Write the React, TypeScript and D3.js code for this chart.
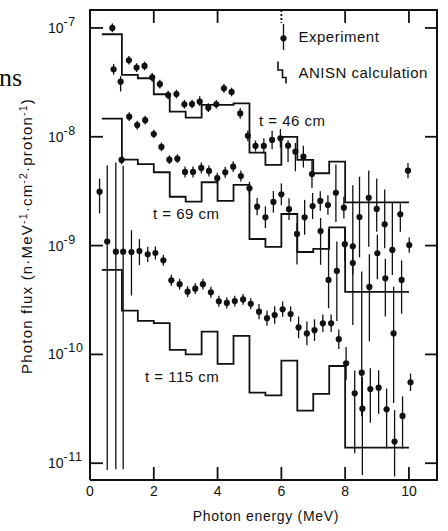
import React from 'react';
import * as d3 from 'd3';

// ANISN histogram bin edges (MeV) and calculated flux per bin
const binEdges = [0.37, 1, 1.5, 2, 2.5, 3, 3.5, 4, 4.5, 5, 5.5, 6, 6.5, 7, 7.5, 8, 10];
const calc46 = [8.75e-8, 3.7e-8, 3.45e-8, 2.46e-8, 1.7e-8, 1.5e-8, 1.96e-8, 1.96e-8, 2.03e-8, 7.14e-9, 5.51e-9, 9.96e-9, 6.12e-9, 4.62e-9, 5.9e-9, 2.5e-9];
const calc69 = [1.47e-8, 6.16e-9, 5.6e-9, 4.72e-9, 2.81e-9, 2.53e-9, 3.82e-9, 2.57e-9, 3.61e-9, 1.15e-9, 9.75e-10, 1.95e-9, 8.73e-10, 9.31e-10, 1.47e-9, 3.75e-10];
const calc115 = [5.97e-10, 2.52e-10, 2.03e-10, 1.94e-10, 1.1e-10, 1.0e-10, 1.62e-10, 8.17e-11, 1.48e-10, 4.45e-11, 4.21e-11, 8.75e-11, 3.04e-11, 4.33e-11, 7.82e-11, 1.39e-11];

// experiment: [energy MeV, flux, error up (decades), error down (decades)]
type Pt = [number, number, number, number];
const exp46: Pt[] = [
  [0.70, 1.0e-7, 0.04, 0.04], [0.74, 4.17e-8, 0.05, 0.05], [0.96, 3.21e-8, 0.05, 0.09],
  [1.22, 5.05e-8, 0.04, 0.04], [1.46, 4.32e-8, 0.04, 0.04], [1.71, 4.48e-8, 0.04, 0.04],
  [1.95, 3.52e-8, 0.04, 0.04], [2.19, 3.04e-8, 0.04, 0.04], [2.45, 2.42e-8, 0.04, 0.04],
  [2.71, 2.47e-8, 0.04, 0.04], [2.96, 1.99e-8, 0.04, 0.04], [3.20, 2.0e-8, 0.04, 0.04],
  [3.44, 2.1e-8, 0.05, 0.04], [3.71, 1.85e-8, 0.04, 0.04], [3.96, 1.99e-8, 0.04, 0.04],
  [4.20, 2.79e-8, 0.04, 0.04], [4.44, 2.58e-8, 0.04, 0.04], [4.71, 1.64e-8, 0.05, 0.05],
  [4.95, 1.02e-8, 0.05, 0.05], [5.19, 8.23e-9, 0.05, 0.05], [5.45, 8.23e-9, 0.07, 0.07],
  [5.71, 9.35e-9, 0.085, 0.085], [5.97, 9.68e-9, 0.085, 0.085], [6.21, 8.28e-9, 0.05, 0.15],
  [6.44, 7.3e-9, 0.08, 0.18], [6.69, 6.56e-9, 0.1, 0.1], [6.96, 4.55e-9, 0.13, 0.13],
  [7.22, 2.57e-9, 0.09, 0.09], [7.46, 2.36e-9, 0.09, 0.09], [7.71, 3.06e-9, 0.26, 0.27],
  [7.96, 2.23e-9, 0.1, 0.1], [8.24, 9.86e-10, 0.56, 0.26], [8.45, 1.83e-9, 0.37, 0.37],
  [8.74, 2.75e-9, 0.25, 0.45], [8.99, 2.17e-9, 0.28, 0.21], [9.24, 1.57e-9, 0.32, 0.22],
  [9.48, 9.12e-10, 0.44, 0.23], [9.73, 1.94e-9, 0.1, 0.16], [9.97, 4.88e-9, 0.07, 0.07],
];
const exp69: Pt[] = [
  [0.30, 3.13e-9, 0.12, 0.2], [0.99, 6.12e-9, 0.04, 0.04], [1.23, 1.53e-8, 0.04, 0.04],
  [1.48, 1.28e-8, 0.04, 0.04], [1.73, 1.42e-8, 0.04, 0.04], [2.00, 1.06e-8, 0.04, 0.04],
  [2.24, 8.06e-9, 0.04, 0.04], [2.49, 6.16e-9, 0.04, 0.04], [2.74, 6.29e-9, 0.04, 0.04],
  [2.98, 4.75e-9, 0.05, 0.05], [3.23, 4.75e-9, 0.05, 0.05], [3.49, 5.17e-9, 0.05, 0.05],
  [3.73, 4.85e-9, 0.05, 0.05], [3.99, 4.16e-9, 0.05, 0.05], [4.24, 4.72e-9, 0.05, 0.05],
  [4.49, 5.31e-9, 0.05, 0.05], [4.73, 4.36e-9, 0.05, 0.05], [5.00, 3.36e-9, 0.06, 0.06],
  [5.24, 2.28e-9, 0.08, 0.08], [5.50, 1.82e-9, 0.1, 0.1], [5.75, 2.52e-9, 0.1, 0.1],
  [6.00, 2.96e-9, 0.1, 0.1], [6.24, 2.16e-9, 0.1, 0.1], [6.49, 1.28e-9, 0.1, 0.28],
  [6.73, 1.82e-9, 0.16, 0.16], [6.98, 2.31e-9, 0.12, 0.12], [7.23, 1.36e-9, 0.12, 0.31],
  [7.48, 4.83e-10, 0.47, 0.26], [7.74, 5.85e-10, 0.27, 0.46], [7.99, 1.03e-9, 0.15, 0.15],
  [8.24, 6.92e-10, 0.16, 0.57], [8.52, 6.79e-11, 0.93, 0.4], [8.76, 4.17e-10, 0.3, 0.5],
  [9.01, 8.5e-10, 0.17, 0.24], [9.26, 5.0e-10, 0.18, 0.35], [9.52, 1.56e-10, 0.43, 0.64],
  [9.77, 4.83e-10, 0.18, 0.31], [10.01, 1.01e-9, 0.07, 0.07],
];
const exp115: Pt[] = [
  [0.54, 1.09e-9, 0.70, 2.1], [0.81, 8.79e-10, 0.82, 2.0], [1.04, 8.79e-10, 0.79, 2.0],
  [1.30, 8.73e-10, 0.2, 0.4], [1.55, 8.91e-10, 0.11, 0.13], [1.81, 8.32e-10, 0.07, 0.07],
  [2.05, 8.55e-10, 0.06, 0.06], [2.30, 7.33e-10, 0.05, 0.05], [2.55, 4.8e-10, 0.05, 0.05],
  [2.81, 4.42e-10, 0.05, 0.05], [3.06, 3.77e-10, 0.05, 0.05], [3.30, 4.02e-10, 0.05, 0.05],
  [3.54, 4.42e-10, 0.05, 0.05], [3.79, 3.72e-10, 0.05, 0.05], [4.04, 3.08e-10, 0.05, 0.05],
  [4.29, 2.97e-10, 0.05, 0.05], [4.54, 3.09e-10, 0.05, 0.05], [4.80, 3.2e-10, 0.05, 0.05],
  [5.04, 2.92e-10, 0.05, 0.05], [5.30, 2.47e-10, 0.07, 0.07], [5.55, 2.15e-10, 0.07, 0.07],
  [5.79, 2.3e-10, 0.08, 0.08], [6.04, 2.6e-10, 0.07, 0.07], [6.29, 2.35e-10, 0.07, 0.07],
  [6.54, 1.77e-10, 0.1, 0.1], [6.80, 1.56e-10, 0.11, 0.11], [7.04, 1.67e-10, 0.1, 0.1],
  [7.30, 1.93e-10, 0.08, 0.08], [7.56, 1.93e-10, 0.08, 0.08], [7.80, 1.38e-10, 0.09, 0.09],
  [8.03, 8.28e-11, 0.15, 0.15], [8.30, 4.39e-11, 0.21, 0.55], [8.54, 3.17e-11, 0.29, 0.61],
  [8.79, 4.81e-11, 0.19, 0.31], [9.05, 4.94e-11, 0.16, 0.24], [9.30, 3.13e-11, 0.19, 0.36],
  [9.55, 1.58e-11, 0.29, 0.32], [9.80, 2.72e-11, 0.18, 0.3], [10.05, 5.54e-11, 0.08, 0.08],
];

const xTicks = [0, 2, 4, 6, 8, 10];
const yExponents = [-7, -8, -9, -10, -11];
const seriesLabels = ['t = 46 cm', 't = 69 cm', 't = 115 cm'];

const W = 448;
const H = 531;
const left = 90, right = 437, top = 10, bottom = 480;
const font = "'Liberation Sans', Arial, sans-serif";
const ink = '#111';

const x = d3.scaleLinear().domain([0, 10.88]).range([left, right]);
const y = d3.scaleLog().domain([7.01e-12, 1.462e-7]).range([bottom, top]);

const stepLine = d3.line<[number, number]>()
  .x(d => x(d[0]))
  .y(d => y(d[1]))
  .curve(d3.curveStepAfter);

function histPath(levels: number[]) {
  const pts: [number, number][] = levels.map((v, i) => [binEdges[i], v]);
  pts.push([binEdges[binEdges.length - 1], levels[levels.length - 1]]);
  return stepLine(pts) || '';
}

function Points({ data }: { data: Pt[] }) {
  return (
    <g>
      {data.map((d, i) => (
        <g key={i}>
          <line x1={x(d[0])} x2={x(d[0])}
            y1={y(d[1] * Math.pow(10, d[2]))} y2={y(d[1] / Math.pow(10, d[3]))}
            stroke={ink} strokeWidth={1.3} />
          <circle cx={x(d[0])} cy={y(d[1])} r={3.1} fill={ink} />
        </g>
      ))}
    </g>
  );
}

export default function App() {
  const labelPos = [[259, 126], [153, 219], [145, 382]];
  return (
    <svg width={W} height={H} style={{ position: 'absolute', left: 0, top: 0, background: '#fff' }}>
      <rect width={W} height={H} fill="#fff" />
      {/* cropped title fragment */}
      <text x={22} y={85.5} textAnchor="end" fontFamily="'Liberation Serif', 'DejaVu Serif', serif" fontSize={26} fill={ink}>ns</text>

      {/* frame */}
      <path d={`M${left},${bottom} V${top} H${right} V${bottom} H${left}`} fill="none" stroke={ink} strokeWidth={2} />

      {/* x ticks */}
      {xTicks.filter(t => t > 0).map(t => (
        <g key={t}>
          <line x1={x(t)} x2={x(t)} y1={bottom} y2={bottom - 13} stroke={ink} strokeWidth={1.8} />
          <line x1={x(t)} x2={x(t)} y1={top} y2={top + 13} stroke={ink} strokeWidth={1.8}
            strokeDasharray={t === 6 ? '2,2' : undefined} />
        </g>
      ))}
      {xTicks.map(t => (
        <text key={t} x={x(t)} y={495.5} textAnchor="middle" fontFamily={font} fontSize={14} fill={ink}>{t}</text>
      ))}

      {/* y ticks */}
      {yExponents.map(e => (
        <g key={e}>
          <line x1={left} x2={left + 13} y1={y(Math.pow(10, e))} y2={y(Math.pow(10, e))} stroke={ink} strokeWidth={1.8} />
          <line x1={right} x2={right - 12} y1={y(Math.pow(10, e))} y2={y(Math.pow(10, e))} stroke={ink} strokeWidth={1.8} />
          <text x={48} y={y(Math.pow(10, e)) + 5} fontFamily={font} fontSize={14} fill={ink}>
            10<tspan dy={-7} fontSize={12.5} letterSpacing={0.6}>{'-' + String(-e)}</tspan>
          </text>
        </g>
      ))}

      {/* axis titles */}
      <text x={266} y={521} textAnchor="middle" fontFamily={font} fontSize={14} letterSpacing={0.7} fill={ink}>Photon energy (MeV)</text>
      <text transform="translate(32,236) rotate(-90)" textAnchor="middle" fontFamily={font} fontSize={15} letterSpacing={1.2} fill={ink}>
        Photon flux (n·MeV<tspan dy={-5} fontSize={10.5}>-1</tspan><tspan dy={5}>·cm</tspan><tspan dy={-5} fontSize={10.5}>-2</tspan><tspan dy={5}>·proton</tspan><tspan dy={-5} fontSize={10.5}>-1</tspan><tspan dy={5}>)</tspan>
      </text>

      {/* calculation histograms */}
      {[calc46, calc69, calc115].map((c, i) => (
        <path key={i} d={histPath(c)} fill="none" stroke={ink} strokeWidth={1.8} />
      ))}

      {/* experiment points */}
      <Points data={exp46} />
      <Points data={exp69} />
      <Points data={exp115} />

      {/* series labels */}
      {seriesLabels.map((s, i) => (
        <text key={s} x={labelPos[i][0]} y={labelPos[i][1]} fontFamily={font} fontSize={15} letterSpacing={0.5} fill={ink}>{s}</text>
      ))}

      {/* legend */}
      <line x1={283.5} x2={283.5} y1={24} y2={50} stroke={ink} strokeWidth={1.3} />
      <circle cx={283.5} cy={38.3} r={3.1} fill={ink} />
      <text x={298.5} y={42.3} fontFamily={font} fontSize={15} letterSpacing={0.5} fill={ink}>Experiment</text>
      <path d="M278,61.5 V70 H282.5 V77.5 H286 V83.5" fill="none" stroke={ink} strokeWidth={1.6} />
      <text x={298.5} y={77.7} fontFamily={font} fontSize={15} letterSpacing={0.5} fill={ink}>ANISN calculation</text>
    </svg>
  );
}
